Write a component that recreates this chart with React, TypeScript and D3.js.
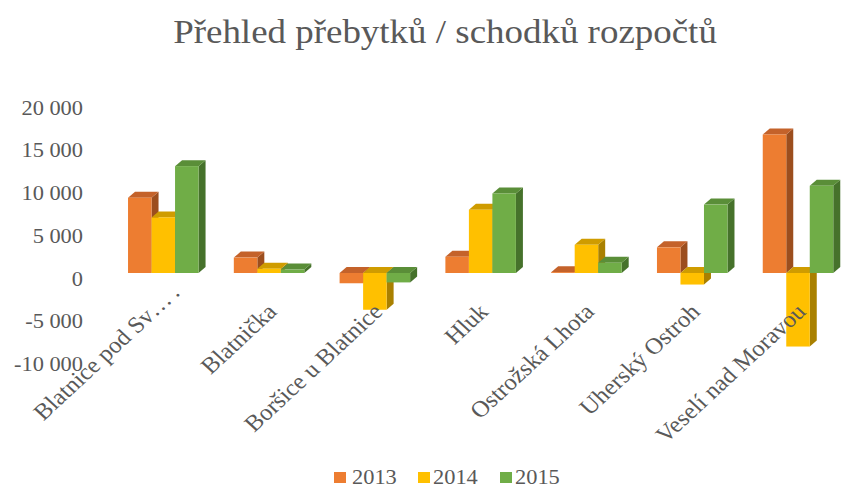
import React from "react";
import * as d3 from "d3";

const categories = [
  "Blatnice pod Sv…\u2009.",
  "Blatnička",
  "Boršice u Blatnice",
  "Hluk",
  "Ostrožská Lhota",
  "Uherský Ostroh",
  "Veselí nad Moravou",
];
const years = ["2013", "2014", "2015"];
const values2013 = [8800, 1800, -1200, 1900, 100, 3000, 16200];
const values2014 = [6500, 500, -4300, 7400, 3300, -1350, -8600];
const values2015 = [12500, 400, -1100, 9300, 1200, 8000, 10200];
const yTicks = [-10000, -5000, 0, 5000, 10000, 15000, 20000];
const title = "Přehled přebytků / schodků rozpočtů";

const seriesValues = [values2013, values2014, values2015];
const faceColors = [
  { front: "#ED7D31", top: "#C4622A", side: "#9C4E1E" },
  { front: "#FFC000", top: "#CF9C00", side: "#A98000" },
  { front: "#70AD47", top: "#5A8E38", side: "#46722B" },
];

const W = 843;
const H = 488;
const SX = 1.12; // horizontal text stretch
const LSX = 1.08;
const TEXT = "#595959";
const FONT = "'Liberation Serif', 'Times New Roman', serif";
const DX = 7;
const DY = 6;
const FRONT_SHIFT = -6;

export default function App() {
  const y = d3.scaleLinear().domain([-10000, 20000]).range([364.5, 108]);
  const x = d3
    .scaleBand<string>()
    .domain(categories)
    .range([110.4, 850.9])
    .paddingInner(1 / 3)
    .paddingOuter(1 / 6);
  const xs = d3.scaleBand<string>().domain(years).range([0, x.bandwidth()]).padding(0);
  const fmt = (v: number) => d3.format(",")(v).replace(/,/g, " ").replace("−", "-");
  const base = y(0) + FRONT_SHIFT;

  const bars: React.ReactNode[] = [];
  categories.forEach((c, i) => {
    years.forEach((yr, s) => {
      const v = seriesValues[s][i];
      const x0 = (x(c) as number) + (xs(yr) as number);
      const w = xs.bandwidth();
      const vy = y(v) + FRONT_SHIFT;
      const col = faceColors[s];
      const topY = Math.min(vy, base);
      const botY = Math.max(vy, base);
      const key = `${i}-${s}`;
      bars.push(
        <g key={key}>
          <polygon
            points={`${x0 + w},${topY} ${x0 + w + DX},${topY - DY} ${x0 + w + DX},${botY - DY} ${x0 + w},${botY}`}
            fill={col.side}
          />
          <polygon
            points={`${x0},${topY} ${x0 + w},${topY} ${x0 + w + DX},${topY - DY} ${x0 + DX},${topY - DY}`}
            fill={col.top}
          />
          <rect x={x0} y={topY} width={w} height={botY - topY} fill={col.front} />
        </g>
      );
    });
  });

  const legendItems = [
    { sq: 334, tx: 352 },
    { sq: 418, tx: 433 },
    { sq: 500, tx: 515 },
  ];

  return (
    <svg width={W} height={H} style={{ display: "block", position: "absolute", left: 0, top: 0, background: "#fff" }}>
      <rect width={W} height={H} fill="#fff" />
      <text
        transform={`translate(445, 43) scale(${SX},1)`}
        textAnchor="middle"
        fontFamily={FONT}
        fontSize={33}
        fill={TEXT}
        style={{ whiteSpace: "pre" }}
      >
        {title}
      </text>
      {yTicks.map((t) => (
        <text
          key={t}
          transform={`translate(83, ${y(t) + 6.5}) scale(${SX},1)`}
          textAnchor="end"
          fontFamily={FONT}
          fontSize={20}
          fill={TEXT}
        >
          {fmt(t)}
        </text>
      ))}
      {bars}
      {categories.map((c, i) => {
        const cx = (x(c) as number) + x.bandwidth() / 2;
        const ax = i === 0 ? 181 : cx + 9;
        const ay = i === 0 ? 294 : 313;
        return (
          <text
            key={c}
            transform={`translate(${ax}, ${ay}) scale(${LSX},1) rotate(-45)`}
            textAnchor="end"
            fontFamily={FONT}
            fontSize={23}
            fill={TEXT}
          >
            {c}
          </text>
        );
      })}
      {years.map((yr, s) => (
        <g key={yr}>
          <rect x={legendItems[s].sq} y={472} width={12} height={11} fill={faceColors[s].front} />
          <text
            transform={`translate(${legendItems[s].tx}, 483.5) scale(${SX},1)`}
            fontFamily={FONT}
            fontSize={20}
            fill={TEXT}
          >
            {yr}
          </text>
        </g>
      ))}
    </svg>
  );
}
